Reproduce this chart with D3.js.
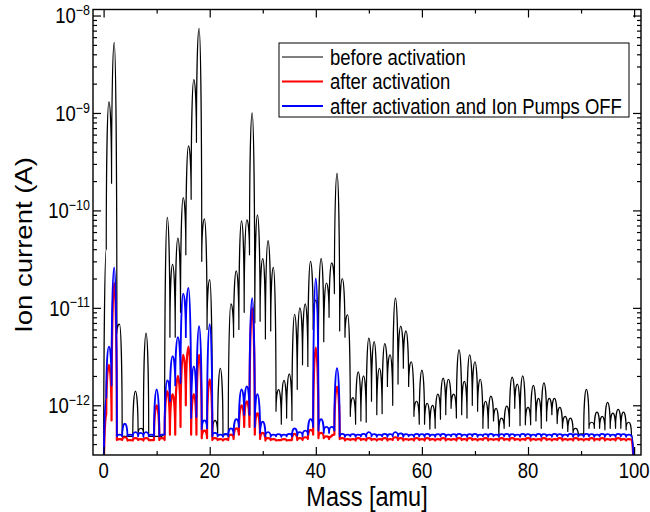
<!DOCTYPE html>
<html>
<head>
<meta charset="utf-8">
<script src="https://cdn.jsdelivr.net/npm/d3@7/dist/d3.min.js"></script>
<style>
  body { margin: 0; background: #fff; }
  text { font-family: "Liberation Sans", Arial, sans-serif; fill: #000; }
</style>
</head>
<body>
<svg id="spectrum"></svg>
<script>
// Mass scan, one peak value per integer mass and one valley value between masses
const masses = d3.range(0, 101);

const beforePeaks = [
  1e-13, 1.3e-9, 5.3e-9, 6.8e-12, 4.8e-13, 4.8e-13, 1.4e-12, 5.8e-13, 5.5e-12, 4.8e-13,
  4.8e-13, 4.8e-13, 8.5e-11, 2.8e-11, 5.2e-11, 1.35e-10, 4.6e-10, 2.2e-9, 7.4e-9, 8.2e-11,
  1.95e-11, 7e-13, 2.4e-12, 5e-13, 1.1e-11, 2.4e-11, 7.8e-11, 8e-11, 1e-9, 9e-11,
  3.2e-11, 4.9e-11, 2.6e-11, 1.45e-12, 1.8e-12, 2.1e-12, 8.6e-12, 1e-11, 1.1e-11, 3e-11,
  1.2e-11, 3.2e-11, 1.8e-11, 2.9e-11, 2.4e-10, 2e-11, 8.5e-12, 1.2e-12, 2.2e-12, 2e-12,
  4.9e-12, 4.5e-12, 2.4e-12, 4.3e-12, 3.3e-12, 1.26e-11, 6.5e-12, 5.8e-12, 2.8e-12, 1.1e-12,
  2.3e-12, 1.05e-12, 1e-12, 1.3e-12, 1.9e-12, 1.85e-12, 1.3e-12, 3.7e-12, 1.76e-12, 3.3e-12,
  2.8e-12, 1.85e-12, 1.1e-12, 1.24e-12, 9.3e-13, 7.4e-13, 9.8e-13, 1.95e-12, 1.65e-12, 2e-12,
  9.5e-13, 1.6e-12, 1.18e-12, 1.7e-12, 1.18e-12, 1.18e-12, 9.5e-13, 7.7e-13, 7.4e-13, 5.8e-13,
  5.1e-13, 1.46e-12, 6.7e-13, 8.5e-13, 7.7e-13, 1.07e-12, 8.3e-13, 9.1e-13, 8.5e-13, 6.7e-13,
  1e-13
];
const beforeValleys = [
  4e-11, 1.9e-10, 5.5e-12, 4.8e-13, 4.8e-13, 4.8e-13, 5e-13, 5.2e-13, 4.8e-13, 4.8e-13,
  4.8e-13, 5e-13, 5e-12, 5e-12, 9e-12, 3.5e-11, 1.3e-10, 5e-10, 3e-11, 6e-12,
  5e-13, 5e-13, 4.8e-13, 5e-13, 5e-12, 6e-12, 9e-12, 3.5e-11, 7e-12, 7.3e-12,
  4.8e-12, 5.8e-12, 8.7e-13, 6.4e-13, 7.4e-13, 7e-13, 1.46e-12, 2.6e-12, 2.5e-12, 6e-12,
  3.8e-12, 4.5e-12, 8e-12, 1.4e-11, 5.8e-12, 5e-12, 7.7e-13, 6.4e-13, 6.9e-13, 6.7e-13,
  1.1e-12, 8e-13, 8.2e-13, 1.56e-12, 1e-12, 1.65e-12, 2.4e-12, 1.56e-12, 7.7e-13, 6.4e-13,
  6.4e-13, 5.7e-13, 5.8e-13, 7.2e-13, 8e-13, 9.3e-13, 7.4e-13, 8e-13, 7.4e-13, 1e-12,
  8.7e-13, 5.8e-13, 5.8e-13, 6.9e-13, 5e-13, 5.8e-13, 6.1e-13, 9.3e-13, 6.2e-13, 6.3e-13,
  6.3e-13, 6.9e-13, 5.8e-13, 6.9e-13, 8e-13, 6.5e-13, 5.8e-13, 5.4e-13, 5.2e-13, 4.8e-13,
  5e-13, 5.8e-13, 5.8e-13, 5.8e-13, 5.6e-13, 5.8e-13, 5.8e-13, 5.8e-13, 5.6e-13, 5e-13
];

const afterPeaks = [
  1e-13, 2.6e-12, 1.8e-11, 4.5e-13, 4.7e-13, 4.4e-13, 4.6e-13, 4.5e-13, 4.6e-13, 4.4e-13,
  1e-12, 4.6e-13, 1.4e-12, 1.3e-12, 2e-12, 3.3e-12, 4e-12, 1.3e-12, 3.3e-12, 5.5e-13,
  1.85e-12, 4.6e-13, 4.5e-13, 4.5e-13, 5e-13, 5.8e-13, 1e-12, 1.1e-12, 1e-11, 8.3e-13,
  5.2e-13, 4.6e-13, 4.5e-13, 4.4e-13, 4.5e-13, 4.4e-13, 5.1e-13, 4.6e-13, 4.7e-13, 5.6e-13,
  3.9e-12, 5.2e-13, 4.8e-13, 4.8e-13, 1.56e-12, 4.6e-13, 4.5e-13, 4.5e-13, 4.6e-13, 4.5e-13,
  4.6e-13, 4.5e-13, 4.5e-13, 4.6e-13, 4.5e-13, 4.7e-13, 4.6e-13, 4.5e-13, 4.5e-13, 4.6e-13,
  4.5e-13, 4.6e-13, 4.5e-13, 4.5e-13, 4.6e-13, 4.5e-13, 4.5e-13, 4.6e-13, 4.5e-13, 4.6e-13,
  4.5e-13, 4.5e-13, 4.6e-13, 4.5e-13, 4.5e-13, 4.6e-13, 4.5e-13, 4.6e-13, 4.5e-13, 4.5e-13,
  4.6e-13, 4.5e-13, 4.5e-13, 4.6e-13, 4.5e-13, 4.5e-13, 4.6e-13, 4.5e-13, 4.5e-13, 4.6e-13,
  4.5e-13, 4.5e-13, 4.6e-13, 4.5e-13, 4.6e-13, 4.5e-13, 4.5e-13, 4.6e-13, 4.5e-13, 4.5e-13,
  1e-13
];
const afterValleys = [
  8e-13, 7e-13, 4.4e-13, 4.4e-13, 4.35e-13, 4.35e-13, 4.4e-13, 4.35e-13, 4.4e-13, 4.4e-13,
  4.4e-13, 4.4e-13, 5e-13, 5e-13, 6e-13, 1e-12, 5e-13, 5e-13, 4.6e-13, 4.6e-13,
  4.4e-13, 4.4e-13, 4.35e-13, 4.4e-13, 4.5e-13, 5e-13, 6e-13, 6e-13, 5e-13, 4.5e-13,
  4.35e-13, 4.4e-13, 4.35e-13, 4.4e-13, 4.35e-13, 4.4e-13, 4.4e-13, 4.4e-13, 4.5e-13, 5e-13,
  4.6e-13, 4.6e-13, 4.5e-13, 5e-13, 4.5e-13, 4.35e-13, 4.4e-13, 4.35e-13, 4.4e-13, 4.35e-13,
  4.4e-13, 4.35e-13, 4.4e-13, 4.35e-13, 4.4e-13, 4.4e-13, 4.35e-13, 4.4e-13, 4.35e-13, 4.4e-13,
  4.35e-13, 4.4e-13, 4.35e-13, 4.4e-13, 4.35e-13, 4.4e-13, 4.35e-13, 4.4e-13, 4.35e-13, 4.4e-13,
  4.35e-13, 4.4e-13, 4.35e-13, 4.4e-13, 4.35e-13, 4.4e-13, 4.35e-13, 4.4e-13, 4.35e-13, 4.4e-13,
  4.35e-13, 4.4e-13, 4.35e-13, 4.4e-13, 4.35e-13, 4.4e-13, 4.35e-13, 4.4e-13, 4.35e-13, 4.4e-13,
  4.35e-13, 4.4e-13, 4.35e-13, 4.4e-13, 4.35e-13, 4.4e-13, 4.35e-13, 4.4e-13, 4.35e-13, 4.4e-13
];

const pumpsOffPeaks = [
  1e-13, 4e-12, 2.6e-11, 5e-13, 6.5e-13, 5e-13, 5.3e-13, 5.2e-13, 5.3e-13, 5e-13,
  1.46e-12, 5e-13, 1.8e-12, 3.2e-12, 5e-12, 1.4e-11, 1.6e-11, 2.5e-12, 6.5e-12, 7e-13,
  6.8e-12, 5.2e-13, 5e-13, 5.1e-13, 5.8e-13, 7.2e-13, 1.46e-12, 1.56e-12, 1.26e-11, 1.3e-12,
  6.8e-13, 5.3e-13, 5e-13, 5.05e-13, 5e-13, 5.1e-13, 5.8e-13, 5.3e-13, 5.5e-13, 7.2e-13,
  2e-11, 7.2e-13, 6e-13, 6e-13, 2.4e-12, 5.1e-13, 5e-13, 5.05e-13, 5e-13, 5.1e-13,
  5.3e-13, 5.05e-13, 5e-13, 5.1e-13, 5.05e-13, 5.3e-13, 5.15e-13, 5.05e-13, 5e-13, 5.1e-13,
  5.05e-13, 5.1e-13, 5e-13, 5.05e-13, 5.1e-13, 5e-13, 5.05e-13, 5.1e-13, 5e-13, 5.05e-13,
  5.1e-13, 5e-13, 5.05e-13, 5.1e-13, 5e-13, 5.05e-13, 5.1e-13, 5.05e-13, 5e-13, 5.1e-13,
  5.05e-13, 5e-13, 5.1e-13, 5.05e-13, 5e-13, 5.1e-13, 5.05e-13, 5e-13, 5.1e-13, 5.05e-13,
  5e-13, 5.1e-13, 5.05e-13, 5e-13, 5.1e-13, 5.05e-13, 5e-13, 5.1e-13, 5.05e-13, 5e-13,
  1e-13
];
const pumpsOffValleys = [
  1.2e-12, 1.6e-12, 4.8e-13, 4.8e-13, 4.8e-13, 4.75e-13, 4.8e-13, 4.75e-13, 4.8e-13, 4.8e-13,
  4.8e-13, 5e-13, 1.1e-12, 1.6e-12, 1.7e-12, 5e-12, 7.4e-13, 7.6e-13, 5.7e-13, 5.8e-13,
  4.8e-13, 4.8e-13, 4.75e-13, 4.8e-13, 5e-13, 6e-13, 8e-13, 8e-13, 6e-13, 5.2e-13,
  4.8e-13, 4.75e-13, 4.8e-13, 4.75e-13, 4.8e-13, 4.8e-13, 4.9e-13, 4.8e-13, 5e-13, 6e-13,
  5.5e-13, 5.2e-13, 5.2e-13, 5.5e-13, 4.8e-13, 4.75e-13, 4.8e-13, 4.75e-13, 4.8e-13, 4.75e-13,
  4.8e-13, 4.75e-13, 4.8e-13, 4.75e-13, 4.8e-13, 4.8e-13, 4.75e-13, 4.8e-13, 4.75e-13, 4.8e-13,
  4.75e-13, 4.8e-13, 4.75e-13, 4.8e-13, 4.75e-13, 4.8e-13, 4.75e-13, 4.8e-13, 4.75e-13, 4.8e-13,
  4.75e-13, 4.8e-13, 4.75e-13, 4.8e-13, 4.75e-13, 4.8e-13, 4.75e-13, 4.8e-13, 4.75e-13, 4.8e-13,
  4.75e-13, 4.8e-13, 4.75e-13, 4.8e-13, 4.75e-13, 4.8e-13, 4.75e-13, 4.8e-13, 4.75e-13, 4.8e-13,
  4.75e-13, 4.8e-13, 4.75e-13, 4.8e-13, 4.75e-13, 4.8e-13, 4.75e-13, 4.8e-13, 4.75e-13, 4.8e-13
];

const seriesNames = ['before activation', 'after activation', 'after activation and Ion Pumps OFF'];
const seriesColors = ['#000000', '#ff0000', '#0000ff'];
const seriesWidths = [1.2, 2.2, 1.8];

const xMajorTicks = [0, 20, 40, 60, 80, 100];
const xMinorTicks = [10, 30, 50, 70, 90];
const yDecades = [-12, -11, -10, -9, -8];

const w = 650, h = 512;
const plot = {left: 93, right: 641, top: 9.5, bottom: 455};
// the original figure is a little taller than wide, text included
const stretch = 1.17;

var x = d3.scaleLinear().domain([-2, 101.3]).range([plot.left, plot.right]);
var y = d3.scaleLog().domain([3.09e-13, 1.153e-8]).range([plot.bottom, plot.top]);

var svg = d3.select('#spectrum')
  .attr('width', w)
  .attr('height', h);

svg.append('clipPath')
  .attr('id', 'plotClip')
  .append('rect')
  .attr('x', plot.left)
  .attr('y', plot.top)
  .attr('width', plot.right - plot.left)
  .attr('height', plot.bottom - plot.top);

// peaks at integer masses, valleys half way between
function toPoints(peaks, valleys) {
  var pts = [];
  masses.forEach(function(m, i) {
    pts.push([m, peaks[i]]);
    if (i < valleys.length) pts.push([m + 0.5, valleys[i]]);
  });
  return pts;
}

var series = [
  toPoints(beforePeaks, beforeValleys),
  toPoints(afterPeaks, afterValleys),
  toPoints(pumpsOffPeaks, pumpsOffValleys)
];

// curve for line(): round top at the higher point, steep side at the lower one
function peakCurve(context) {
  var k = 0.55, x0, y0, started;
  return {
    lineStart: function() { started = false; },
    lineEnd: function() {},
    point: function(px, py) {
      if (!started) {
        context.moveTo(px, py);
        started = true;
      } else if (py < y0) {
        context.bezierCurveTo(x0, y0 + k * (py - y0), px - k * (px - x0), py, px, py);
      } else if (py > y0) {
        context.bezierCurveTo(x0 + k * (px - x0), y0, px, py - k * (py - y0), px, py);
      } else {
        context.lineTo(px, py);
      }
      x0 = px; y0 = py;
    }
  };
}

var line = d3.line()
  .x(function(d){ return x(d[0]); })
  .y(function(d){ return y(d[1]); })
  .curve(peakCurve);

svg.append('g')
  .attr('clip-path', 'url(#plotClip)')
  .selectAll('path')
  .data(series)
  .enter()
  .append('path')
  .attr('d', line)
  .attr('fill', 'none')
  .attr('stroke', function(d, i){ return seriesColors[i]; })
  .attr('stroke-width', function(d, i){ return seriesWidths[i]; })
  .attr('stroke-linejoin', 'round');

// ticks on all four sides, pointing in
var yAll = y.ticks();
var yMajor = yAll.filter(function(d){ return Math.abs(Math.log10(d) - Math.round(Math.log10(d))) < 1e-6; });
var yMinor = yAll.filter(function(d){ return yMajor.indexOf(d) < 0; });

function tickGroup(axis, tx, ty) {
  var g = svg.append('g')
    .attr('transform', 'translate(' + tx + ',' + ty + ')')
    .call(axis);
  g.select('.domain').remove();
  g.selectAll('text').remove();
  g.selectAll('line').attr('stroke', '#000').attr('stroke-width', 1.2);
  return g;
}

tickGroup(d3.axisBottom(x).tickValues(xMajorTicks).tickSize(-8), 0, plot.bottom);
tickGroup(d3.axisBottom(x).tickValues(xMinorTicks).tickSize(-4), 0, plot.bottom);
tickGroup(d3.axisTop(x).tickValues(xMajorTicks).tickSize(-8), 0, plot.top);
tickGroup(d3.axisTop(x).tickValues(xMinorTicks).tickSize(-4), 0, plot.top);

tickGroup(d3.axisLeft(y).tickValues(yMajor).tickSize(-8), plot.left, 0);
tickGroup(d3.axisLeft(y).tickValues(yMinor).tickSize(-4), plot.left, 0);
tickGroup(d3.axisRight(y).tickValues(yMajor).tickSize(-8), plot.right, 0);
tickGroup(d3.axisRight(y).tickValues(yMinor).tickSize(-4), plot.right, 0);

// text centred on (cx, cy), stretched vertically like the original
function label(cx, cy, anchor, size) {
  return svg.append('text')
    .attr('transform', 'translate(' + cx + ',' + cy + ') scale(1,' + stretch + ')')
    .attr('text-anchor', anchor)
    .attr('dy', '0.36em')
    .style('font-size', size + 'px');
}

xMajorTicks.forEach(function(d) {
  label(x(d), 470, 'middle', 18.5).text(d);
});

// y labels as 10 with a superscript exponent
yDecades.forEach(function(d) {
  var t = label(90, y(Math.pow(10, d)), 'end', 18.5);
  t.append('tspan').text('10');
  t.append('tspan')
    .attr('dy', -7)
    .style('font-size', '12.5px')
    .text('\u2212' + Math.abs(d));
});

// frame
svg.append('rect')
  .attr('x', plot.left)
  .attr('y', plot.top)
  .attr('width', plot.right - plot.left)
  .attr('height', plot.bottom - plot.top)
  .attr('fill', 'none')
  .attr('stroke', '#000')
  .attr('stroke-width', 1.4);

// axis titles
label((plot.left + plot.right) / 2, 496, 'middle', 23.5).text('Mass [amu]');

svg.append('text')
  .attr('transform', 'translate(24,245) rotate(-90) scale(' + stretch + ',1)')
  .attr('text-anchor', 'middle')
  .attr('dy', '0.36em')
  .style('font-size', '23.5px')
  .text('Ion current (A)');

// legend
var legend = svg.append('g').attr('transform', 'translate(279,43)');
legend.append('rect')
  .attr('width', 350)
  .attr('height', 74)
  .attr('fill', '#fff')
  .attr('stroke', '#000')
  .attr('stroke-width', 1);

seriesNames.forEach(function(name, i) {
  var cy = 57 + i * 24.5;
  svg.append('line')
    .attr('x1', 282)
    .attr('x2', 323)
    .attr('y1', cy)
    .attr('y2', cy)
    .attr('stroke', seriesColors[i])
    .attr('stroke-width', i === 0 ? 1.2 : 1.8);
  label(330, cy, 'start', 18.5).text(name);
});
</script>
</body>
</html>
